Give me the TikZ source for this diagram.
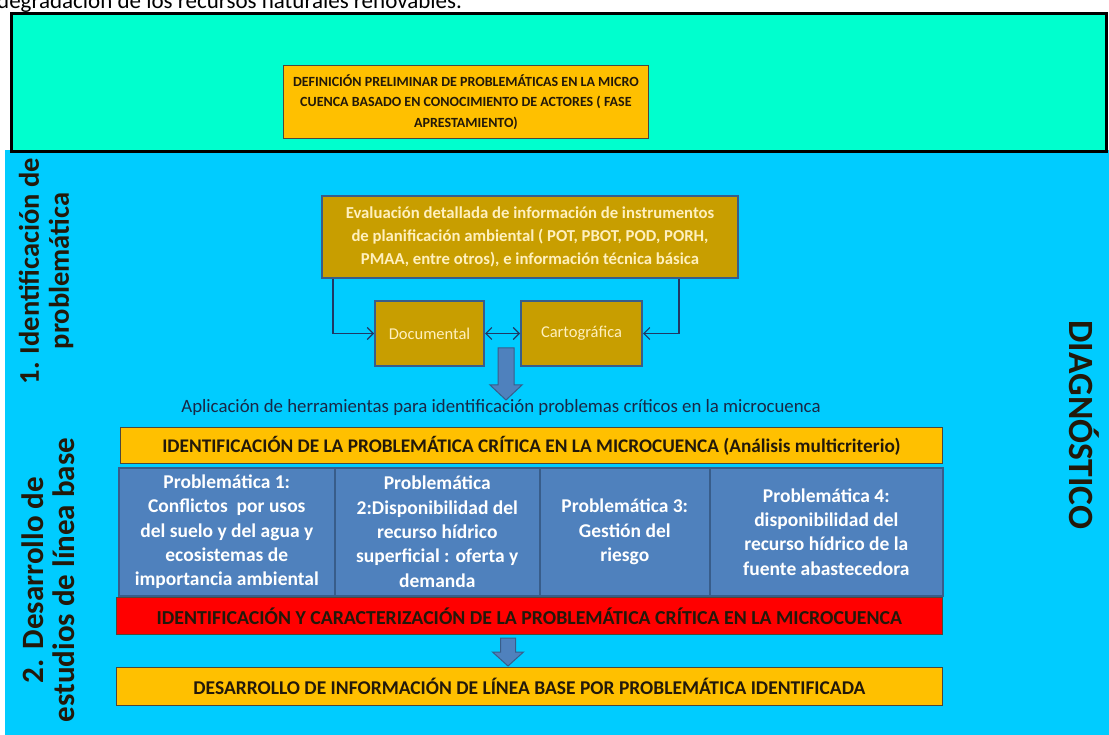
\documentclass[tikz,border=0pt]{standalone}
\usepackage{fontspec}
\setmainfont{Carlito}
\usetikzlibrary{arrows.meta}

\definecolor{tealbg}{RGB}{0,255,206}
\definecolor{bluebg}{RGB}{0,204,255}
\definecolor{amber}{RGB}{255,192,0}
\definecolor{goldbox}{RGB}{200,158,0}
\definecolor{goldtext}{RGB}{255,240,190}
\definecolor{steel}{RGB}{79,129,189}
\definecolor{steeldark}{RGB}{56,93,138}
\definecolor{ink}{RGB}{35,25,10}
\definecolor{navy}{RGB}{31,56,100}
\definecolor{slate}{RGB}{25,40,70}

\newcommand{\fs}[2]{\fontsize{#1}{#2}\selectfont}

\tikzset{
  panel/.style={anchor=north west, inner sep=0pt, align=center},
  amberbox/.style={panel, fill=amber, draw=ink!80, line width=0.8pt, text=ink, font=\bfseries},
  goldbox/.style={panel, fill=goldbox, draw=steeldark, line width=2pt, text=goldtext},
  probbox/.style={panel, fill=steel, draw=steeldark, line width=1.6pt, text=white, font=\bfseries\fs{19.5}{24.3}},
  redbox/.style={panel, fill=red, draw=ink!80, line width=0.8pt, text=ink, font=\bfseries},
  conn/.style={draw=navy, line width=1.1pt, -{Straight Barb[length=6pt,width=12pt]}},
  blockarrow/.style={fill=steel, draw=steeldark, line width=1pt},
  sidelabel/.style={rotate=90, align=center, text=ink}
}

\begin{document}
\begin{tikzpicture}[x=1pt,y=-1pt]
\useasboundingbox (0,0) rectangle (1109,735);
\begin{scope}
\clip (0,0) rectangle (1109,735);
\fill[white] (0,0) rectangle (1109,735);

% caption line running above the frame
\node[anchor=base west, inner sep=0pt, font=\fs{23}{27}, text=black] (caption) at (-3,8.5)
  {degradación de los recursos naturales renovables.};

% background areas
\fill[bluebg] (5,150) rectangle (1109,735);
\node[anchor=north west, inner sep=0pt, draw=black, line width=3pt, fill=tealbg,
      minimum width=1095pt, minimum height=138pt] (fase) at (10,12) {};

% preparation phase
\node[amberbox, font=\bfseries\fs{14}{20.5}, minimum width=365pt, minimum height=73pt] (prelim) at (283,65)
  {DEFINICIÓN PRELIMINAR DE PROBLEMÁTICAS EN LA MICRO\\
   CUENCA BASADO EN CONOCIMIENTO DE ACTORES ( FASE\\
   APRESTAMIENTO)};

% information review
\node[goldbox, font=\bfseries\fs{16.7}{23}, minimum width=416pt, minimum height=82pt] (eval) at (321,195)
  {Evaluación detallada de información de instrumentos\\
   de planificación ambiental ( POT, PBOT, POD, PORH,\\
   PMAA, entre otros), e información técnica básica};

\node[goldbox, font=\fs{16.5}{18}, minimum width=109pt, minimum height=65pt] (doc) at (374,300) {Documental};
\node[goldbox, font=\fs{16.5}{18}, minimum width=121pt, minimum height=65pt] (carto) at (520,300) {Cartográfica};

\draw[conn] ([xshift=12pt]eval.south west) |- (doc.west);
\draw[conn] ([xshift=-60pt]eval.south east) |- (carto.east);
\draw[conn, {Straight Barb[length=6pt,width=12pt]}-{Straight Barb[length=6pt,width=12pt]}] (doc.east) -- (carto.west);

% block arrow towards the tools line
\coordinate (arA) at (506,348);
\path[blockarrow] (arA) ++(-8,0) -- ++(16,0) -- ++(0,37) -- ++(8,0) -- ++(-16,15) -- ++(-16,-15) -- ++(8,0) -- cycle;

\node[font=\fs{18.8}{22}, text=slate, inner sep=0pt] (tools) at (501,407)
  {Aplicación de herramientas para identificación problemas críticos en la microcuenca};

% critical issues
\node[amberbox, font=\bfseries\fs{19.3}{22}, minimum width=822pt, minimum height=36pt] (critica) at (120,427)
  {IDENTIFICACIÓN DE LA PROBLEMÁTICA CRÍTICA EN LA MICROCUENCA (Análisis multicriterio)};

\node[probbox, minimum width=216pt, minimum height=128pt] (p1) at (118,467)
  {Problemática 1:\\ Conflictos \ por usos\\ del suelo y del agua y\\ ecosistemas de\\ importancia ambiental};
\node[probbox, minimum width=205pt, minimum height=128pt] (p2) at (334,467)
  {Problemática\\ 2:Disponibilidad del\\ recurso hídrico\\ superficial : oferta y\\ demanda};
\node[probbox, minimum width=170pt, minimum height=128pt] (p3) at (539,467)
  {Problemática 3:\\ Gestión del\\ riesgo};
\node[probbox, minimum width=233pt, minimum height=128pt] (p4) at (709,467)
  {Problemática 4:\\ disponibilidad del\\ recurso hídrico de la\\ fuente abastecedora};

\node[redbox, font=\bfseries\fs{19.8}{22}, minimum width=826pt, minimum height=37pt] (caract) at (116,597)
  {IDENTIFICACIÓN Y CARACTERIZACIÓN DE LA PROBLEMÁTICA CRÍTICA EN LA MICROCUENCA};

\coordinate (arB) at (508,638);
\path[blockarrow] (arB) ++(-7.5,0) -- ++(15,0) -- ++(0,14) -- ++(8,0) -- ++(-15.5,14) -- ++(-15.5,-14) -- ++(8,0) -- cycle;

\node[amberbox, font=\bfseries\fs{19.5}{22}, minimum width=826pt, minimum height=38pt] (lineabase) at (116,667)
  {DESARROLLO DE INFORMACIÓN DE LÍNEA BASE POR PROBLEMÁTICA IDENTIFICADA};

% stage labels
\node[sidelabel, font=\bfseries\fs{28.5}{30}] (stage1) at (46,271) {1.\hspace{8pt}Identificación de\\ problemática};
\node[sidelabel, font=\bfseries\fs{31}{31}] (stage2) at (48,580) {2.\hspace{10pt}Desarrollo de\\ estudios de línea base};
\node[rotate=-90, font=\bfseries\fs{35.5}{40}, text=ink] (diag) at (1084,425) {DIAGNÓSTICO};
\end{scope}
\end{tikzpicture}
\end{document}
